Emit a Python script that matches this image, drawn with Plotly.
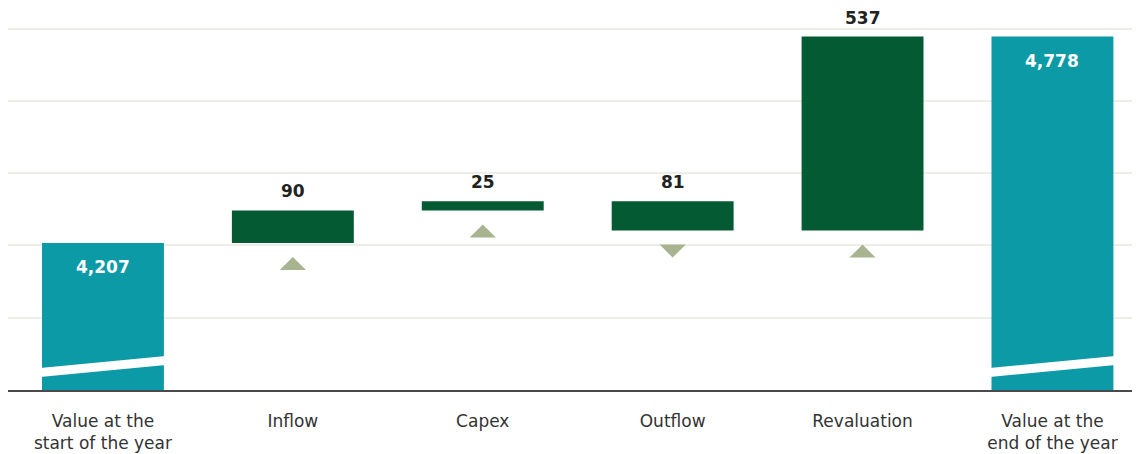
import plotly.graph_objects as go

# ---- data ----
categories = ["Value at the<br>start of the year", "Inflow", "Capex", "Outflow",
              "Revaluation", "Value at the<br>end of the year"]
start_value = 4207
change_labels = ["Inflow", "Capex", "Outflow", "Revaluation"]
changes = [90, 25, -81, 537]
end_value = 4778

# ---- styles ----
TEAL = "#0B9AA6"
GREEN = "#045B33"
TRI = "#A8B38F"
GRID = "#EEEDE6"
FONT = "DejaVu Sans"
AXIS_MIN, AXIS_MAX = 3800, 4857
PLOT_H = 382
PX_PER_UNIT = PLOT_H / (AXIS_MAX - AXIS_MIN)
BAR_W = 0.642
TRI_GAP_PX = 14
TRI_H_PX = 13
TRI_HALF_W = 0.069

xs = list(range(len(categories)))

# cumulative bases for the change bars
bases, tops = [], []
level = start_value
for c in changes:
    new = level + c
    bases.append(min(level, new))
    tops.append(max(level, new))
    level = new

fig = go.Figure()

# totals (base 0, clipped by the broken axis)
fig.add_trace(go.Bar(x=[xs[0], xs[-1]], y=[start_value, end_value], base=0,
                     marker=dict(color=TEAL, line=dict(width=0)), width=BAR_W,
                     hoverinfo="skip"))
# changes
fig.add_trace(go.Bar(x=xs[1:-1], y=[abs(c) for c in changes], base=bases,
                     marker=dict(color=GREEN, line=dict(width=0)), width=BAR_W,
                     hoverinfo="skip"))

shapes = []
# direction triangles below each change bar
gap_u = TRI_GAP_PX / PX_PER_UNIT
h_u = TRI_H_PX / PX_PER_UNIT
for x, c, b in zip(xs[1:-1], changes, bases):
    y_top = b - gap_u
    y_bot = y_top - h_u
    if c > 0:
        path = f"M {x - TRI_HALF_W},{y_bot} L {x + TRI_HALF_W},{y_bot} L {x},{y_top} Z"
    else:
        path = f"M {x - TRI_HALF_W},{y_top} L {x + TRI_HALF_W},{y_top} L {x},{y_bot} Z"
    shapes.append(dict(type="path", path=path, xref="x", yref="y",
                       fillcolor=TRI, line=dict(width=0), layer="above"))

annotations = []
for x, c, t in zip(xs[1:-1], changes, tops):
    annotations.append(dict(x=x, y=t, text=f"<b>{abs(c)}</b>", showarrow=False,
                            yanchor="bottom", yshift=7,
                            font=dict(size=17, color="#222222", family=FONT)))
for x, v in [(xs[0], start_value), (xs[-1], end_value)]:
    annotations.append(dict(x=x, y=v, text=f"<b>{v:,}</b>", showarrow=False,
                            yanchor="top", yshift=-12,
                            font=dict(size=17, color="white", family=FONT)))

# axis-break stripes across the total bars
half_w = BAR_W / 2
band_lo_left = AXIS_MIN + 36
band_rise = 33
band_thick = 25
for x in (xs[0], xs[-1]):
    x0, x1 = x - half_w - 0.01, x + half_w + 0.01
    path = (f"M {x0},{band_lo_left} L {x1},{band_lo_left + band_rise} "
            f"L {x1},{band_lo_left + band_rise + band_thick} "
            f"L {x0},{band_lo_left + band_thick} Z")
    shapes.append(dict(type="path", path=path, xref="x", yref="y",
                       fillcolor="white", line=dict(width=0), layer="above"))

fig.update_layout(
    width=1132, height=446,
    margin=dict(l=0, r=0, t=0, b=446 - PLOT_H),
    paper_bgcolor="white", plot_bgcolor="white",
    showlegend=False, barmode="overlay",
    annotations=annotations, shapes=shapes,
    font=dict(family=FONT, size=17, color="#333333"),
    xaxis=dict(range=[-0.5, 5.461], tickmode="array", tickvals=xs,
               ticktext=categories, showgrid=False, zeroline=False,
               showline=True, linecolor="#4A4A4A", linewidth=1.5,
               ticks="", ticklabelstandoff=15,
               tickfont=dict(family=FONT, size=17, color="#333333")),
    yaxis=dict(range=[AXIS_MIN, AXIS_MAX], tick0=AXIS_MIN, dtick=200,
               showticklabels=False, showgrid=True, gridcolor=GRID,
               gridwidth=1.5, zeroline=False, showline=True,
               linecolor="#F2F2F2", linewidth=1),
)

fig.write_html("out.html")
